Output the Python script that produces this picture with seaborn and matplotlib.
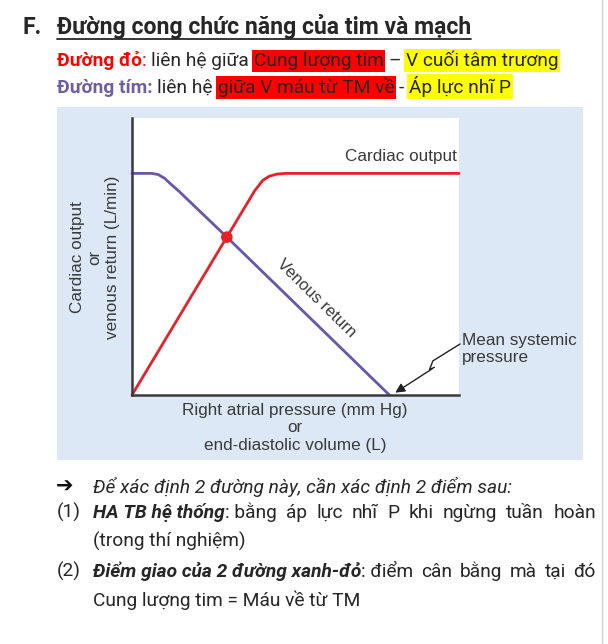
import numpy as np
import pandas as pd
import seaborn as sns
import matplotlib.pyplot as plt
from matplotlib.patches import Rectangle
from matplotlib.lines import Line2D

# ------------------------------
# Du lieu doc tu hinh (truc x, y: 0..10, khong don vi)
# ------------------------------
ap_luc_nhi = [0, 2.9, 3.75, 4.0, 4.2, 4.45, 4.7, 5.0, 10]          # truc x, duong do
cung_luong_tim = [0, 5.70, 7.37, 7.75, 7.9, 7.98, 8.0, 8.0, 8.0]

ap_luc_tm = [0, 0.6, 0.8, 1.0, 1.2, 1.45, 2.9, 7.87]                # truc x, duong tim
mau_ve_tm = [8.0, 8.0, 7.96, 7.82, 7.6, 7.34, 5.70, 0]

diem_giao_x = [2.9]
diem_giao_y = [5.70]

# mui ten "Mean systemic pressure" (toa do du lieu)
mui_ten_x = [10.03, 9.2, 9.1, 9.25]
mui_ten_y = [1.84, 1.23, 0.92, 1.0]
mui_ten_dich = (7.98, 0.03)

nhan_x = "Right atrial pressure (mm Hg)\nor\nend-diastolic volume (L)"
nhan_y = "Cardiac output\nor\nvenous return (L/min)"

# ------------------------------
# Mau sac, font
# ------------------------------
DO = "#e8202a"
TIM = "#6a55a8"
CHU = "#262626"
CHU_DT = "#3a3a3a"
XANH_NEN = "#dce8f5"
FONT_VN = ["Roboto", "DejaVu Sans"]
FONT_DT = ["Liberation Sans", "DejaVu Sans"]
CO = 13.8

sns.set_theme(style="white")
plt.rcParams["font.family"] = FONT_VN

W, H = 608, 644
fig = plt.figure(figsize=(W / 100, H / 100), dpi=100)
fig.patch.set_facecolor("white")
r = fig.canvas.get_renderer()


def px(x, y):
    return x / W, 1 - y / H


def do_rong(chu, **kw):
    t = fig.text(0, 0, chu, **kw)
    w = t.get_window_extent(r).width
    t.remove()
    return w


def viet(x, y, phan, co=CO):
    # phan: (chu, mau, dam, nghieng, nen)
    kc = do_rong("a a", fontsize=co) - do_rong("aa", fontsize=co)
    for chu, mau, dam, kieu, nen in phan:
        x += kc * (len(chu) - len(chu.lstrip(" ")))
        s = chu.strip(" ")
        t = fig.text(*px(x, y), s, color=mau, fontsize=co, fontweight=dam,
                     fontstyle=kieu, va="baseline", ha="left")
        if nen:
            t.set_bbox(dict(facecolor=nen, edgecolor="none", pad=1.2))
        x += t.get_window_extent(r).width
        x += kc * (len(chu) - len(chu.rstrip(" ")))
    return x


def canh_deu(x0, x1, y, cum, co=CO):
    # cum: danh sach cac nhom chu, gian deu tu x0 den x1
    rong = []
    for nhom in cum:
        rong.append(sum(do_rong(c, fontsize=co, fontweight=d, fontstyle=k) for c, d, k in nhom))
    gap = (x1 - x0 - sum(rong)) / (len(cum) - 1)
    x = x0
    for nhom, w in zip(cum, rong):
        viet(x, y, [(c, CHU, d, k, None) for c, d, k in nhom], co)
        x += w + gap


# ------------------------------
# Nen xanh + vien trang
# ------------------------------
fig.add_artist(Rectangle(px(57, 460), (583 - 57) / W, (460 - 107) / H,
                         transform=fig.transFigure, facecolor=XANH_NEN, edgecolor="none", zorder=0))
fig.add_artist(Line2D([602 / W, 602 / W], [0, 1], color="#cfcfcf", lw=1))

# ------------------------------
# Tieu de
# ------------------------------
viet(22, 34, [("F.", CHU, "bold", "normal", None)], co=16.6)
x_cuoi = viet(57, 34, [("Đường cong chức năng của tim và mạch", CHU, "bold", "normal", None)], co=16.6)
fig.add_artist(Line2D([57 / W, x_cuoi / W], [1 - 39 / H] * 2, color=CHU, lw=1.3))

viet(57, 66, [("Đường đỏ", "#ff0000", "bold", "normal", None),
              (": ", "#ff0000", "normal", "normal", None),
              ("liên hệ giữa ", CHU, "normal", "normal", None),
              ("Cung lượng tim", CHU, "normal", "normal", "#ff0000"),
              (" – ", CHU, "normal", "normal", None),
              ("V cuối tâm trương", CHU, "normal", "normal", "#ffff00")])
viet(57, 93, [("Đường tím:", "#6f5f9e", "bold", "normal", None),
              (" liên hệ ", CHU, "normal", "normal", None),
              ("giữa V máu từ TM về", CHU, "normal", "normal", "#ff0000"),
              (" - ", CHU, "normal", "normal", None),
              ("Áp lực nhĩ P", CHU, "normal", "normal", "#ffff00")])

# ------------------------------
# Do thi
# ------------------------------
ax = fig.add_axes([132 / W, 1 - 395 / H, (459 - 132) / W, (395 - 118) / H])
ax.set_facecolor("white")
sns.lineplot(x=ap_luc_nhi, y=cung_luong_tim, sort=False, color=DO, lw=2, ax=ax, clip_on=False)
sns.lineplot(x=ap_luc_tm, y=mau_ve_tm, sort=False, color=TIM, lw=2, ax=ax, clip_on=False)
sns.scatterplot(x=diem_giao_x, y=diem_giao_y, color=DO, s=70, edgecolor="none", zorder=5, ax=ax, clip_on=False)

ax.set_xlim(0, 10)
ax.set_ylim(0, 10)
ax.set_xticks([])
ax.set_yticks([])
for s in ["top", "right"]:
    ax.spines[s].set_visible(False)
for s in ["left", "bottom"]:
    ax.spines[s].set_color(CHU_DT)
    ax.spines[s].set_linewidth(1.8)

ax.text(9.95, 8.6, "Cardiac output", ha="right", va="center", fontsize=12.3,
        color=CHU_DT, family=FONT_DT)
ax.text(5.65, 3.5, "Venous return", ha="center", va="center", rotation=-44.5,
        rotation_mode="anchor", fontsize=12, color=CHU_DT, family=FONT_DT)
ax.text(10.1, 1.66, "Mean systemic\npressure", ha="left", va="center", fontsize=12.3,
        color=CHU_DT, family=FONT_DT, linespacing=1.1, clip_on=False)

ax.plot(mui_ten_x, mui_ten_y, color="#222222", lw=1, clip_on=False)
ax.annotate("", xy=mui_ten_dich, xytext=(mui_ten_x[-1], mui_ten_y[-1]),
            arrowprops=dict(arrowstyle="-|>", color="#222222", lw=1, mutation_scale=14),
            annotation_clip=False)

fig.text(*px(295, 428), nhan_x, ha="center", va="center", fontsize=12.3,
         color=CHU_DT, family=FONT_DT, linespacing=1.18)
fig.text(*px(95, 257), nhan_y, ha="center", va="center", rotation=90, fontsize=12.3,
         color=CHU_DT, family=FONT_DT, linespacing=1.18)

# ------------------------------
# Phan chu ben duoi
# ------------------------------
fig.text(*px(56, 493), "➔", fontsize=15, color="#111111", fontweight="bold",
         family=["DejaVu Sans"], va="baseline")
viet(93, 493, [("Để xác định 2 đường này, cần xác định 2 điểm sau:", CHU, "normal", "italic", None)])

viet(57, 518, [("(1)", CHU, "normal", "normal", None)])
canh_deu(93, 596, 518,
         [[("HA TB hệ thống", "bold", "italic"), (": bằng", "normal", "normal")]]
         + [[(w, "normal", "normal")] for w in "áp lực nhĩ P khi ngừng tuần hoàn".split()])
viet(93, 547, [("(trong thí nghiệm)", CHU, "normal", "normal", None)])

viet(57, 577, [("(2)", CHU, "normal", "normal", None)])
canh_deu(93, 596, 577,
         [[("Điểm giao của 2 đường xanh-đỏ", "bold", "italic"), (": điểm", "normal", "normal")]]
         + [[(w, "normal", "normal")] for w in "cân bằng mà tại đó".split()])
viet(93, 606, [("Cung lượng tim = Máu về từ TM", CHU, "normal", "normal", None)])

fig.savefig("out.png", dpi=100)
